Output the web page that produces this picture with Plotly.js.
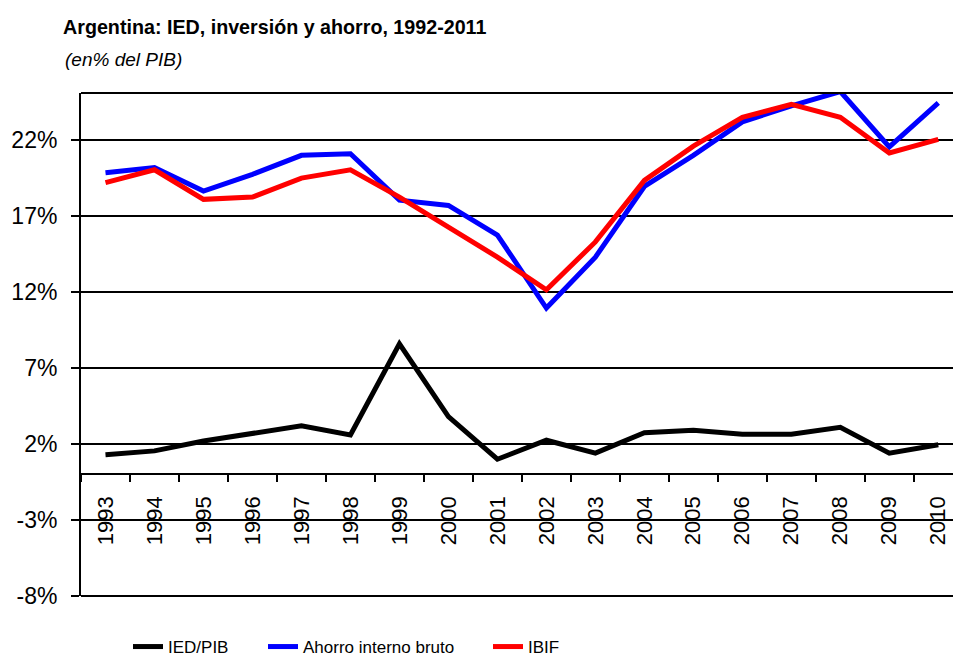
<!DOCTYPE html>
<html>
<head>
<meta charset="utf-8">
<script src="https://cdn.plot.ly/plotly-3.0.1.min.js"></script>
<style>html,body{margin:0;padding:0;background:#fff;}#chart{width:953px;height:659px;}</style>
</head>
<body>
<div id="chart"></div>
<script>
const years = ["1993","1994","1995","1996","1997","1998","1999","2000","2001","2002","2003","2004","2005","2006","2007","2008","2009","2010"];
const iedPib = [1.3, 1.55, 2.2, 2.7, 3.2, 2.6, 8.6, 3.8, 1.0, 2.25, 1.4, 2.75, 2.9, 2.65, 2.65, 3.1, 1.4, 1.95];
const ahorroInterno = [19.85, 20.2, 18.65, 19.75, 21.0, 21.1, 18.05, 17.7, 15.75, 10.95, 14.3, 18.95, 21.0, 23.2, 24.25, 25.2, 21.55, 24.45];
const ibif = [19.2, 20.05, 18.1, 18.25, 19.5, 20.05, 18.25, 16.3, 14.3, 12.15, 15.3, 19.35, 21.6, 23.5, 24.35, 23.5, 21.15, 22.05];
const yTickVals = [-8, -3, 2, 7, 12, 17, 22];
const yTickText = ["-8%", "-3%", "2%", "7%", "12%", "17%", "22%"];
const seriesNames = ["IED/PIB", "Ahorro interno bruto", "IBIF"];

const FONT = "Arial, 'Liberation Sans', sans-serif";
const W = 953, H = 659, ML = 81, MT = 93, MB = 63;
const plotW = W - ML, plotH = H - MT - MB;
const yMin = -8, yMax = 25.1;

function lx(px){ return (px - ML) / plotW; }

const traces = [
  {x: years, y: iedPib, name: seriesNames[0], type: 'scatter', mode: 'lines',
   line: {color: '#000000', width: 5}, legend: 'legend'},
  {x: years, y: ahorroInterno, name: seriesNames[1], type: 'scatter', mode: 'lines',
   line: {color: '#0000FF', width: 5}, legend: 'legend2'},
  {x: years, y: ibif, name: seriesNames[2], type: 'scatter', mode: 'lines',
   line: {color: '#FF0000', width: 5}, legend: 'legend3'}
];

const legBase = {orientation: 'h', xanchor: 'left', yanchor: 'middle',
  yref: 'container', y: 1 - 647 / H,
  font: {family: FONT, size: 17, color: '#000'},
  bgcolor: 'rgba(0,0,0,0)', borderwidth: 0};

const layout = {
  width: W, height: H,
  margin: {l: ML, r: 0, t: MT, b: MB, pad: 0},
  paper_bgcolor: '#ffffff', plot_bgcolor: '#ffffff',
  font: {family: FONT, color: '#000'},
  title: {text: '<b>Argentina: IED, inversión y ahorro, 1992-2011</b>',
    font: {family: FONT, size: 19.7, color: '#000'},
    xref: 'container', yref: 'container', x: 63 / W, xanchor: 'left',
    y: 1 - 27 / H, yanchor: 'middle'},
  annotations: [{text: '<i>(en% del PIB)</i>', xref: 'paper', yref: 'paper',
    x: lx(63), xanchor: 'left', y: (MT + plotH - 60) / plotH, yanchor: 'middle',
    showarrow: false, font: {family: FONT, size: 19, color: '#000'}}],
  xaxis: {type: 'category', range: [-0.5, 17.3], anchor: 'free',
    position: (0 - yMin) / (yMax - yMin),
    showline: true, linecolor: '#000', linewidth: 2,
    ticks: 'outside', tickson: 'boundaries', ticklen: 7, tickwidth: 2, tickcolor: '#000',
    tickangle: -90, tickfont: {family: FONT, size: 22, color: '#000'},
    ticklabelstandoff: 12,
    showgrid: false, zeroline: false, fixedrange: true},
  yaxis: {range: [yMin, yMax], tickvals: yTickVals, ticktext: yTickText,
    showgrid: true, gridcolor: '#000', gridwidth: 1.5, zeroline: false,
    showline: true, linecolor: '#000', linewidth: 2,
    ticks: 'outside', ticklen: 8, tickwidth: 2, tickcolor: '#000',
    ticklabelstandoff: 9,
    tickfont: {family: FONT, size: 23, color: '#000'}, fixedrange: true},
  shapes: [
    {type: 'line', xref: 'paper', yref: 'paper', x0: 0, x1: 1, y0: 1, y1: 1, line: {color: '#000', width: 2}},
    {type: 'line', xref: 'paper', yref: 'paper', x0: 0, x1: 1, y0: 0, y1: 0, line: {color: '#000', width: 2}}
  ],
  legend: Object.assign({}, legBase, {x: lx(128)}),
  legend2: Object.assign({}, legBase, {x: lx(263)}),
  legend3: Object.assign({}, legBase, {x: lx(488)}),
  showlegend: true
};

Plotly.newPlot('chart', traces, layout, {displayModeBar: false, staticPlot: true});
</script>
</body>
</html>
